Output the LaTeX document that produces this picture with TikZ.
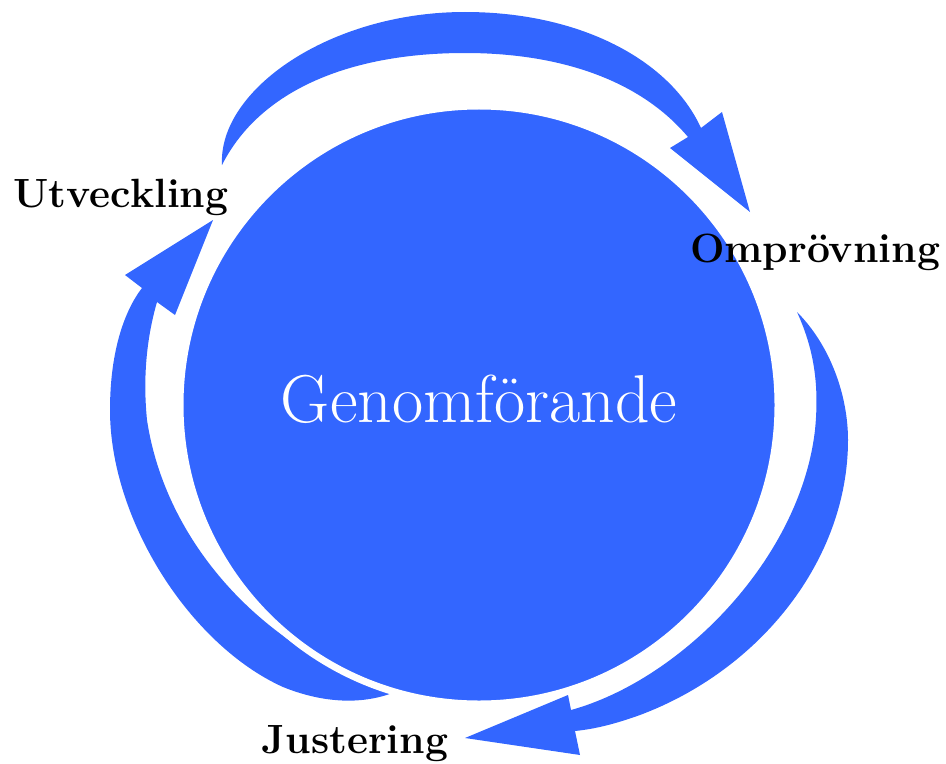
\documentclass[tikz,border=0pt]{standalone}
\usepackage{fontspec}
\definecolor{cycleblue}{RGB}{51,102,255}
\tikzset{
  cyclearrow/.style={fill=cycleblue, draw=none},
  corecircle/.style={circle, fill=cycleblue, draw=white, line width=7bp, inner sep=0pt, minimum size=598bp},
  coretext/.style={text=white, font=\fontsize{68}{74}\selectfont, anchor=base, inner sep=0pt},
  steplabel/.style={text=black, font=\fontsize{41}{48}\selectfont\bfseries, anchor=base, inner sep=0pt}
}
\begin{document}
\begin{tikzpicture}[x=1bp,y=-1bp]
\useasboundingbox (0,0) rectangle (946,764);
% top arrow: Utveckling -> Omprovning
\fill[cyclearrow] (222,165) .. controls (218,90) and (330,12) .. (465,12)
  .. controls (580,12) and (670,60) .. (701,128)
  -- (722,112) -- (750,212) -- (670,148) -- (688,137)
  .. controls (640,80) and (560,53) .. (465,53)
  .. controls (350,53) and (260,90) .. (222,165) -- cycle;
% right arrow: Omprovning -> Justering
\fill[cyclearrow] (797,312) .. controls (830,345) and (848,395) .. (848,440)
  .. controls (848,560) and (760,670) .. (640,715)
  .. controls (615,724) and (595,729) .. (575,731)
  -- (580,755) -- (465,738) -- (568,695) -- (571,710)
  .. controls (680,680) and (800,560) .. (815,430)
  .. controls (820,380) and (812,345) .. (797,312) -- cycle;
% left arrow: Justering -> Utveckling
\fill[cyclearrow] (395,692) .. controls (360,706) and (320,702) .. (283,687)
  .. controls (190,645) and (110,520) .. (110,410)
  .. controls (110,350) and (125,310) .. (142,288)
  -- (125,275) -- (213,220) -- (175,315) -- (157,302)
  .. controls (146,340) and (143,380) .. (147,420)
  .. controls (165,540) and (260,650) .. (395,692) -- cycle;
% central circle
\node[corecircle] (core) at (479,405) {};
\node[coretext] (coretxt) at (479,422) {Genomförande};
% labels
\node[steplabel] (utv) at (121,207) {Utveckling};
\node[steplabel] (omp) at (815,262) {Omprövning};
\node[steplabel] (jus) at (355,753) {Justering};
\end{tikzpicture}
\end{document}
